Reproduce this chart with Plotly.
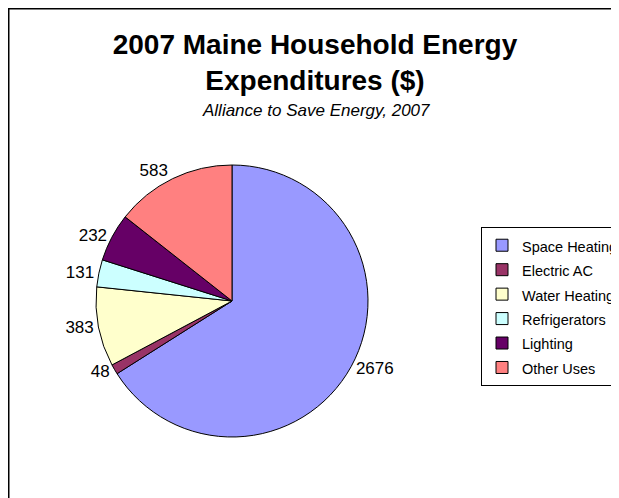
import plotly.graph_objects as go

categories = ["Space Heating", "Electric AC", "Water Heating", "Refrigerators", "Lighting", "Other Uses"]
values = [2676, 48, 383, 131, 232, 583]
colors = ["#9999FF", "#993366", "#FFFFCC", "#CCFFFF", "#660066", "#FF8080"]

FONT = "Arial, Liberation Sans, sans-serif"

# page body has an 8px margin, so the figure is sized to fill the rest of the window
W, H = 611, 490

# pie: centre (224, 293) from the figure's top-left, radius 136
cx, cy, r = 224, 293, 136

# legend entries: a slightly smaller text inside a taller legend line
legend_labels = ["<span style='font-size:14.5px'>%s</span>" % c for c in categories]

fig = go.Figure()
fig.add_trace(go.Pie(
    labels=legend_labels,
    values=values,
    sort=False,
    direction="clockwise",
    rotation=0,
    marker=dict(colors=colors, line=dict(color="black", width=1)),
    textinfo="value",
    textposition="outside",
    outsidetextfont=dict(family=FONT, size=17, color="black"),
    domain=dict(x=[(cx - r) / W, (cx + r) / W],
                y=[(H - cy - r) / H, (H - cy + r) / H]),
    hoverinfo="label+value+percent",
))

fig.update_layout(
    width=W, height=H,
    margin=dict(l=0, r=0, t=0, b=0, autoexpand=False),
    paper_bgcolor="white",
    plot_bgcolor="white",
    font=dict(family=FONT, color="black"),
    title=dict(
        text="<b>2007 Maine Household Energy<br>Expenditures ($)</b>",
        x=307 / W, xanchor="center",
        y=1 - 46 / H, yanchor="top", yref="container",
        font=dict(family=FONT, size=28, color="black"),
    ),
    annotations=[dict(
        text="<i>Alliance to Save Energy, 2007</i>",
        x=308 / W, xref="paper", xanchor="center",
        y=1 - 91 / H, yref="paper", yanchor="top",
        showarrow=False,
        font=dict(family=FONT, size=17, color="black"),
    )],
    legend=dict(
        x=473 / W, xanchor="left",
        y=1 - 219 / H, yanchor="top",
        bordercolor="black", borderwidth=1,
        bgcolor="white",
        font=dict(family=FONT, size=16.5, color="black"),
    ),
    shapes=[dict(
        type="rect", xref="paper", yref="paper",
        x0=0.75 / W, x1=1.1, y0=-0.1, y1=1 - 0.75 / H,
        line=dict(color="black", width=1.5),
        fillcolor="rgba(0,0,0,0)",
        layer="below",
    )],
)

fig.write_html("out.html")
